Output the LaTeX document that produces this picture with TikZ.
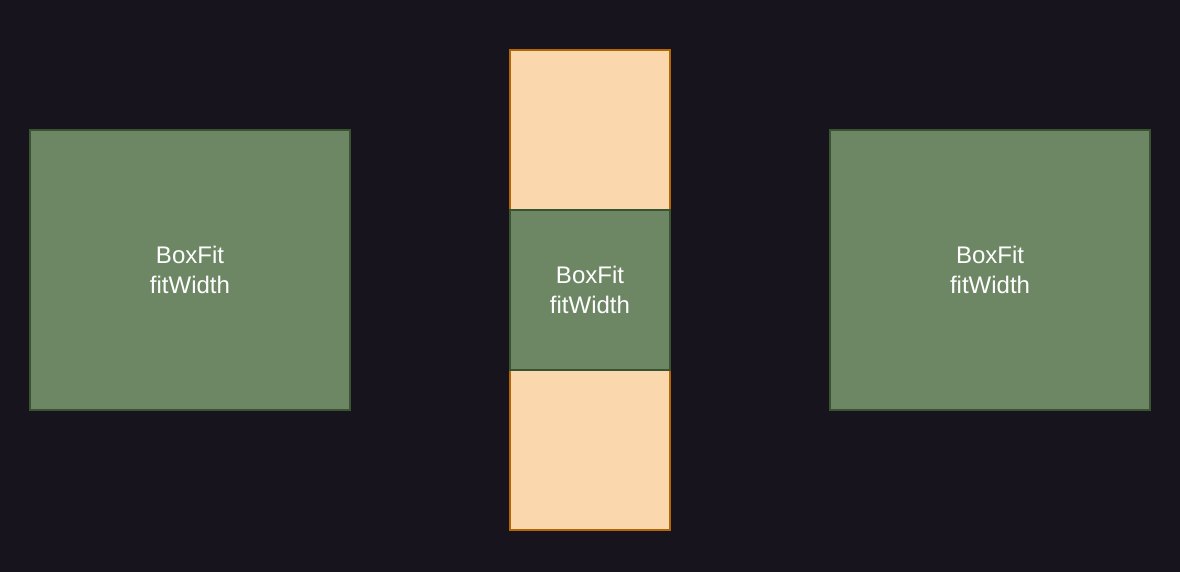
\documentclass[tikz,border=0pt]{standalone}
\usepackage{fontspec}
\setmainfont{Liberation Sans}
\definecolor{bg}{HTML}{18141D}
\definecolor{gfill}{HTML}{6D8764}
\definecolor{gline}{HTML}{3A5431}
\definecolor{ofill}{HTML}{FAD7AC}
\definecolor{oline}{HTML}{B46504}
\tikzset{
  greenbox/.style={draw=gline, fill=gfill, line width=1.5pt, text=white, align=center,
    font=\fontsize{24}{30}\selectfont, inner sep=0pt},
  orangebox/.style={draw=oline, fill=ofill, line width=1.5pt, inner sep=0pt}
}
\begin{document}
\begin{tikzpicture}[x=1pt,y=-1pt]
\fill[bg] (0,0) rectangle (1180,572);
\useasboundingbox (0,0) rectangle (1180,572);
\node[greenbox, minimum width=320pt, minimum height=280pt] (left) at (190,270) {BoxFit\\fitWidth};
\node[orangebox, minimum width=160pt, minimum height=480pt] (outer) at (590,290) {};
\node[greenbox, minimum width=160pt, minimum height=160pt] (mid) at (590,290) {BoxFit\\fitWidth};
\node[greenbox, minimum width=320pt, minimum height=280pt] (right) at (990,270) {BoxFit\\fitWidth};
\end{tikzpicture}
\end{document}
